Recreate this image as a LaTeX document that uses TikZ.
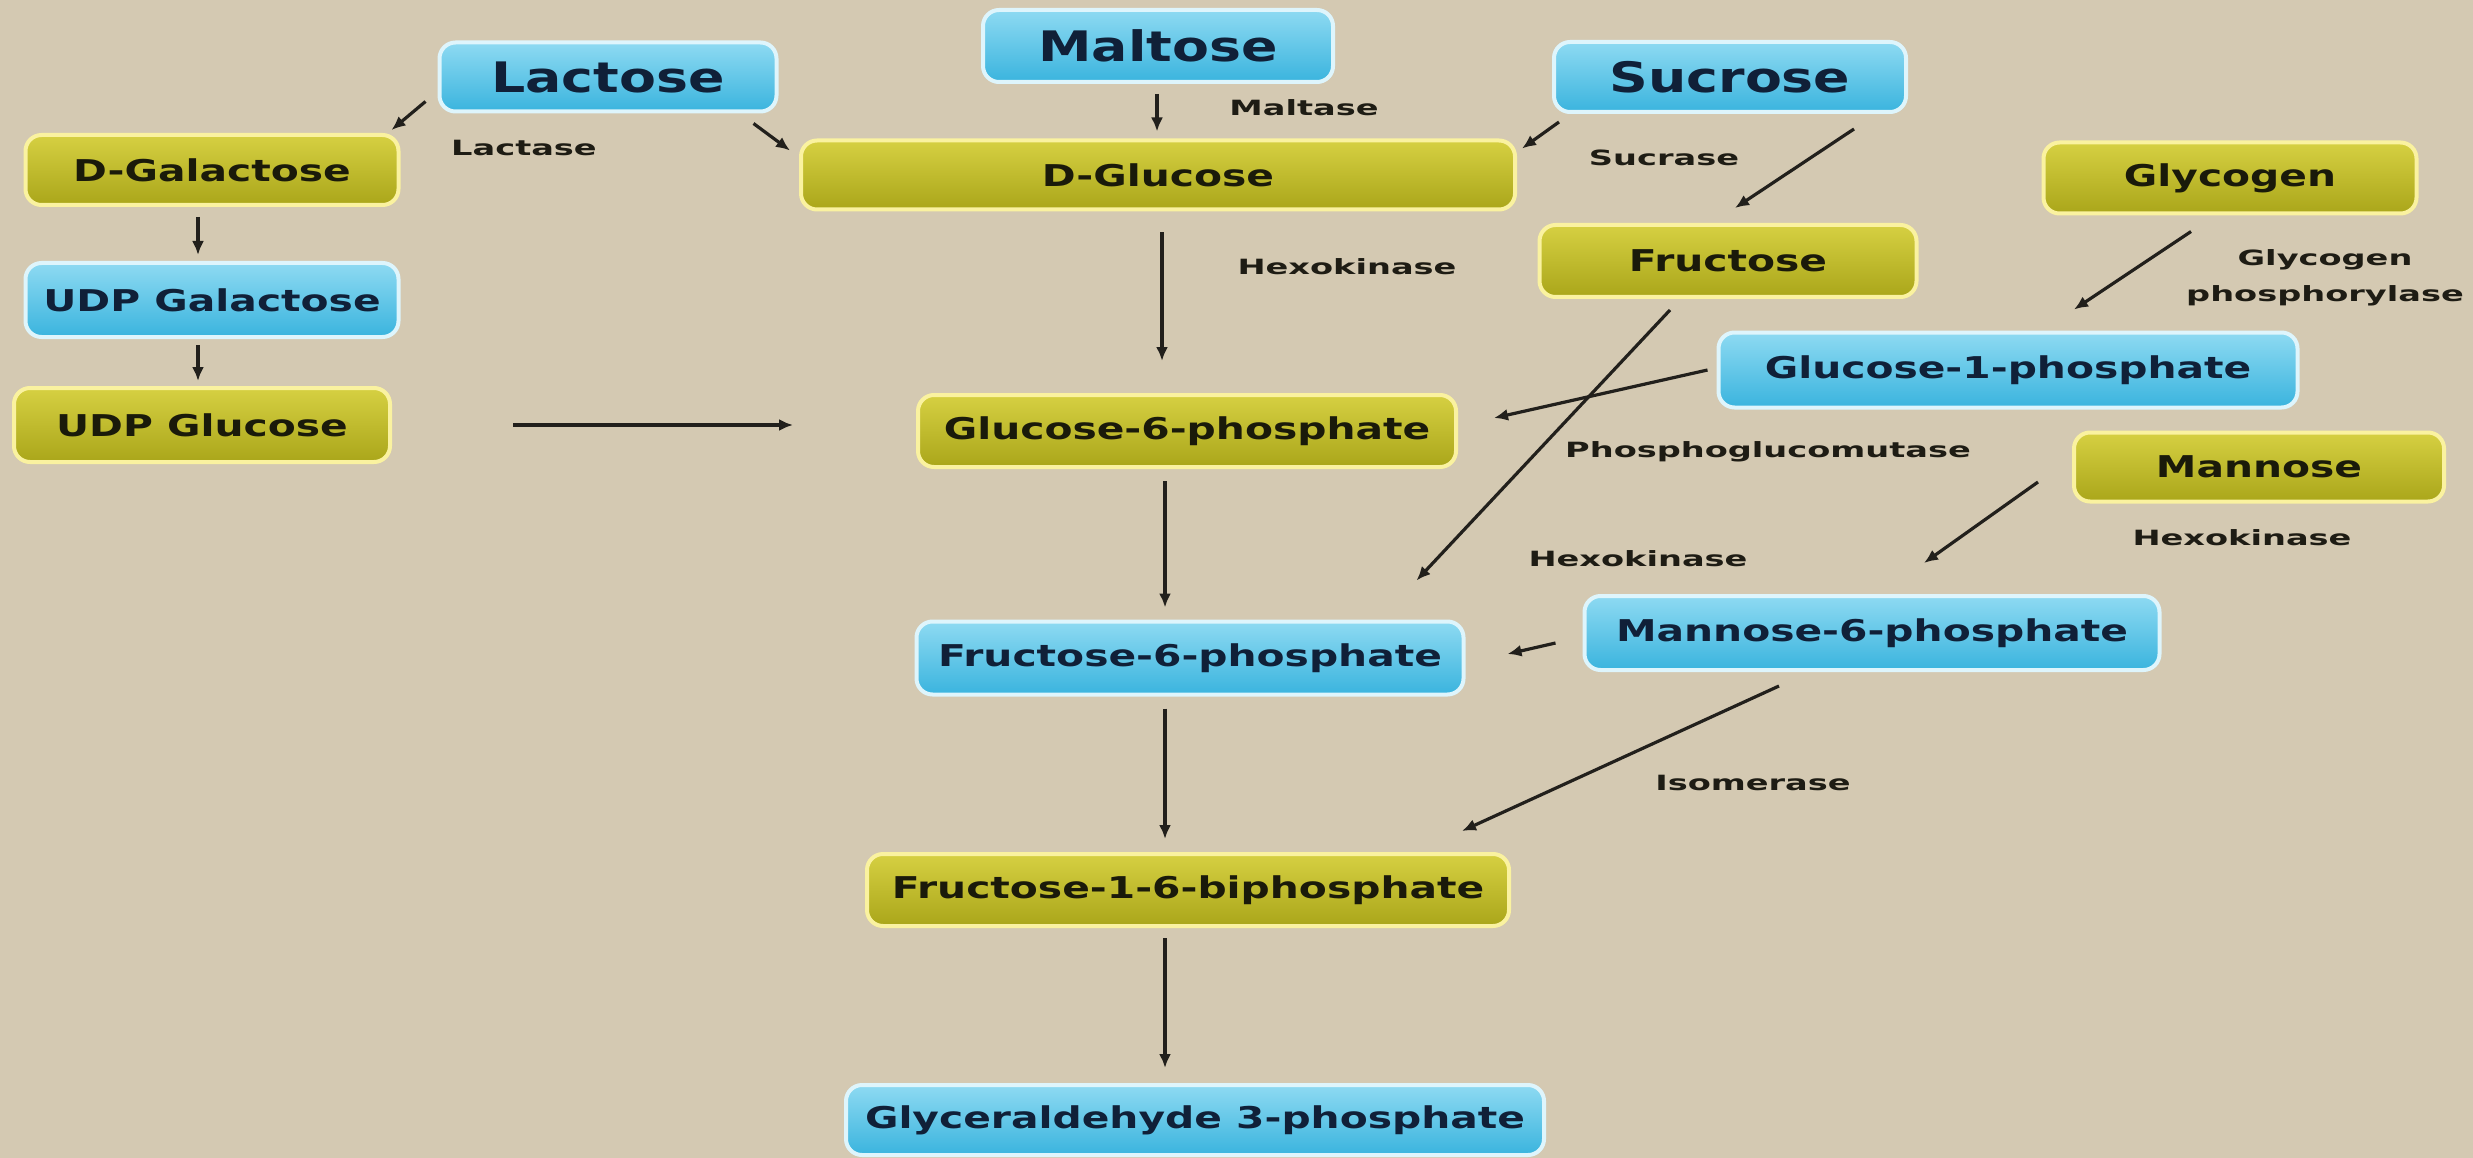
\documentclass[tikz,border=0pt]{standalone}
\usepackage{fontspec}
\newfontfamily\nodefont[FakeStretch=1.36]{DejaVu Sans}
\newfontfamily\bigfont[FakeStretch=1.28]{DejaVu Sans}
\newfontfamily\labfont[FakeStretch=1.60]{DejaVu Sans}
\usetikzlibrary{arrows.meta,shadings}
\definecolor{bg}{RGB}{212,201,178}
\definecolor{bltop}{RGB}{142,218,242}
\definecolor{blbot}{RGB}{58,180,222}
\definecolor{blbord}{RGB}{222,245,252}
\definecolor{bltext}{RGB}{16,32,56}
\definecolor{oltop}{RGB}{214,208,66}
\definecolor{olbot}{RGB}{170,166,26}
\definecolor{olbord}{RGB}{250,242,160}
\definecolor{oltext}{RGB}{26,26,10}
\definecolor{labc}{RGB}{30,28,20}
\definecolor{arrc}{RGB}{34,32,28}
\tikzset{
  box/.style={rectangle, rounded corners=16pt, line width=4pt, inner sep=0pt, align=center},
  bluebox/.style={box, top color=bltop, bottom color=blbot, draw=blbord, text=bltext,
    font=\nodefont\bfseries\fontsize{30}{35}\selectfont},
  olivebox/.style={box, top color=oltop, bottom color=olbot, draw=olbord, text=oltext,
    font=\nodefont\bfseries\fontsize{30}{35}\selectfont},
  bigtxt/.style={font=\bigfont\bfseries\fontsize{42}{48}\selectfont},
  lab/.style={font=\labfont\bfseries\fontsize{21}{36}\selectfont, text=labc, align=center, inner sep=0pt},
  arr/.style={-{Latex[length=14pt,width=12pt]}, line width=3.2pt, draw=arrc}
}
\begin{document}
\begin{tikzpicture}[x=1pt,y=-1pt]
\fill[bg] (0,0) rectangle (2473,1158);
\useasboundingbox (0,0) rectangle (2473,1158);

% nodes
\node[bluebox, bigtxt, minimum width=337pt, minimum height=69pt] (lac) at (608,77) {Lactose};
\node[bluebox, bigtxt, minimum width=350pt, minimum height=72pt] (mal) at (1158,46) {Maltose};
\node[bluebox, bigtxt, minimum width=352pt, minimum height=70pt] (suc) at (1730,77) {Sucrose};
\node[olivebox, minimum width=373pt, minimum height=70pt] (dgal) at (212,170) {D-Galactose};
\node[olivebox, minimum width=714pt, minimum height=69pt] (dglu) at (1158,175) {D-Glucose};
\node[olivebox, minimum width=373pt, minimum height=71pt] (glyc) at (2230,178) {Glycogen};
\node[olivebox, minimum width=377pt, minimum height=72pt] (fru) at (1728,261) {Fructose};
\node[bluebox, minimum width=373pt, minimum height=74pt] (udpgal) at (212,300) {UDP Galactose};
\node[bluebox, minimum width=579pt, minimum height=75pt] (g1p) at (2008,370) {Glucose-1-phosphate};
\node[olivebox, minimum width=376pt, minimum height=74pt] (udpglu) at (202,425) {UDP Glucose};
\node[olivebox, minimum width=538pt, minimum height=72pt] (g6p) at (1187,431) {Glucose-6-phosphate};
\node[olivebox, minimum width=370pt, minimum height=69pt] (man) at (2259,467) {Mannose};
\node[bluebox, minimum width=575pt, minimum height=74pt] (m6p) at (1872,633) {Mannose-6-phosphate};
\node[bluebox, minimum width=547pt, minimum height=73pt] (f6p) at (1190,658) {Fructose-6-phosphate};
\node[olivebox, minimum width=642pt, minimum height=72pt] (f16) at (1188,890) {Fructose-1-6-biphosphate};
\node[bluebox, minimum width=698pt, minimum height=70pt] (g3p) at (1195,1120) {Glyceraldehyde 3-phosphate};

% enzyme labels
\node[lab] (lLactase) at (524,148) {Lactase};
\node[lab] (lMaltase) at (1304,108) {Maltase};
\node[lab] (lSucrase) at (1664,158) {Sucrase};
\node[lab] (lHex1) at (1347,267) {Hexokinase};
\node[lab] (lGP) at (2325,278) {Glycogen\\phosphorylase};
\node[lab] (lPGM) at (1768,452) {Phosphoglucomutase};
\node[lab] (lHex2) at (1638,559) {Hexokinase};
\node[lab] (lHex3) at (2242,538) {Hexokinase};
\node[lab] (lIso) at (1753,783) {Isomerase};

% connectors
\draw[arr] ([shift={(-12,-12)}]lac.south west) -- ([shift={(-9,-3)}]dgal.north east);
\draw[arr] ([shift={(-25,10)}]lac.south east) -- ([shift={(-9,12)}]dglu.north west);
\draw[arr] ([shift={(-1,10)}]mal.south) -- ([shift={(-1,-7)}]dglu.north);
\draw[arr] ([shift={(7,8)}]suc.south west) -- ([shift={(5,10)}]dglu.north east);
\draw[arr] ([shift={(-54,15)}]suc.south east) -- ([shift={(7,-15)}]fru.north);
\draw[arr] ([shift={(-14,10)}]dgal.south) -- ([shift={(-14,-6)}]udpgal.north);
\draw[arr] ([shift={(-14,6)}]udpgal.south) -- ([shift={(-4,-5)}]udpglu.north);
\draw[arr] ([shift={(121,0)}]udpglu.east) -- ([shift={(-123,-6)}]g6p.west);
\draw[arr] ([shift={(4,21)}]dglu.south) -- ([shift={(-25,-32)}]g6p.north);
\draw[arr] ([shift={(-39,16)}]glyc.south) -- ([shift={(66,-21)}]g1p.north);
\draw[arr] ([shift={(-9,0)}]g1p.west) -- ([shift={(36,-13)}]g6p.east);
\draw[arr] ([shift={(-58,11)}]fru.south) -- ([shift={(-49,-39)}]f6p.north east);
\draw[arr] ([shift={(-22,12)}]g6p.south) -- ([shift={(-25,-12)}]f6p.north);
\draw[arr] ([shift={(-34,15)}]man.west) -- ([shift={(52,-31)}]m6p.north);
\draw[arr] ([shift={(-27,10)}]m6p.west) -- ([shift={(42,-4)}]f6p.east);
\draw[arr] ([shift={(-25,12)}]f6p.south) -- ([shift={(-23,-13)}]f16.north);
\draw[arr] ([shift={(-93,14)}]m6p.south) -- ([shift={(-49,-21)}]f16.north east);
\draw[arr] ([shift={(-23,10)}]f16.south) -- ([shift={(-30,-15)}]g3p.north);
\end{tikzpicture}
\end{document}
